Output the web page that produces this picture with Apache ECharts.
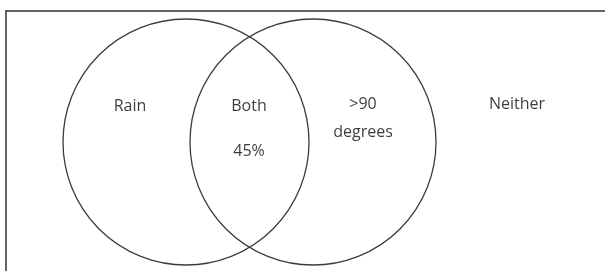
<!DOCTYPE html>
<html>
<head>
<meta charset="utf-8">
<script src="https://cdn.jsdelivr.net/npm/echarts@6/dist/echarts.min.js"></script>
<style>
  html, body { margin: 0; padding: 0; background: #fff; }
  #chart { width: 605px; height: 271px; }
</style>
</head>
<body>
<div id="chart"></div>
<script>
/*
 * Venn diagram: two sets (Rain, >90 degrees), overlap labelled 45%
 * coordinates are in the grid's data units (x right, y down)
 */
var circleNames = ['Rain', '>90 degrees'];
var circleX = [180, 307];
var circleY = [131, 131];
var circleR = [123, 123];

var labelTexts = ['Rain', 'Both', '45%', '>90\ndegrees', 'Neither'];
var labelX = [124, 243, 243, 357, 511];
var labelY = [95, 95, 140, 107, 93];

function venn(id) {
    var dom = document.getElementById(id);
    var myChart = echarts.init(dom);

    var circleData = [];
    for (var i = 0; i < circleNames.length; i++) {
        circleData.push({ name: circleNames[i], value: [circleX[i], circleY[i], circleR[i]] });
    }
    var labelData = [];
    for (var j = 0; j < labelTexts.length; j++) {
        labelData.push({ name: labelTexts[j], value: [labelX[j], labelY[j]] });
    }

    // box is open on the right and bottom (cropped), so only the top/left axis lines
    var boxLine = { show: true, onZero: false, lineStyle: { color: '#333', width: 1.5 } };

    var option = {
        animation: false,
        grid: { left: 6, top: 11, right: 0, bottom: 0 },
        xAxis: {
            type: 'value', min: 0, max: 599, position: 'top',
            axisLine: boxLine, axisTick: { show: false }, axisLabel: { show: false }, splitLine: { show: false }
        },
        yAxis: {
            type: 'value', min: 0, max: 260, inverse: true, position: 'left',
            axisLine: boxLine, axisTick: { show: false }, axisLabel: { show: false }, splitLine: { show: false }
        },
        series: [
            {
                type: 'custom',
                data: circleData,
                renderItem: function (params, api) {
                    var c = api.coord([api.value(0), api.value(1)]);
                    var r = api.size([api.value(2), 0])[0];
                    return {
                        type: 'circle',
                        shape: { cx: c[0], cy: c[1], r: r },
                        style: { fill: 'none', stroke: '#3c3c3c', lineWidth: 1.3 }
                    };
                }
            },
            {
                type: 'scatter',
                symbolSize: 0,
                data: labelData,
                label: {
                    show: true,
                    position: 'inside',
                    formatter: '{b}',
                    color: '#0a0a0a',
                    fontSize: 16,
                    fontFamily: 'Open Sans',
                    lineHeight: 28
                }
            }
        ]
    };
    myChart.setOption(option, true);
}
venn('chart');
</script>
</body>
</html>
